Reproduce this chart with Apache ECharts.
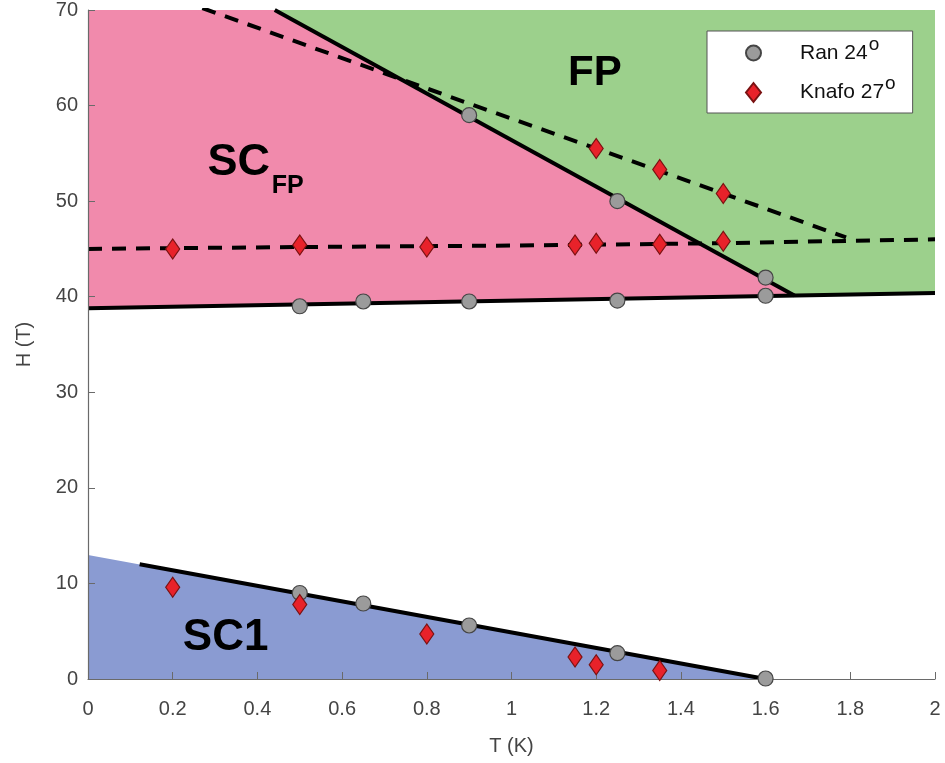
<!DOCTYPE html>
<html>
<head>
<meta charset="utf-8">
<script src="https://cdn.jsdelivr.net/npm/echarts@6/dist/echarts.min.js"></script>
<style>
  html, body { margin: 0; padding: 0; background: #fff; }
  #chart { width: 945px; height: 763px; }
</style>
</head>
<body>
<div id="chart"></div>
<script>
// Phase diagram of H (T) vs T (K)

// Axis ticks
const xTicks = [0, 0.2, 0.4, 0.6, 0.8, 1, 1.2, 1.4, 1.6, 1.8, 2];
const yTicks = [0, 10, 20, 30, 40, 50, 60, 70];

// Ran 24° data: [T, H]
const ranT = [0.5, 0.65, 0.9, 1.25, 1.6, 0.9, 1.25, 1.6, 0.5, 0.65, 0.9, 1.25, 1.6];
const ranH = [39.0, 39.5, 39.5, 39.6, 40.1, 59.0, 50.0, 42.0, 9.0, 7.9, 5.6, 2.7, 0.05];

// Knafo 27° data: [T, H]
const knafoT = [0.2, 0.5, 0.8, 1.15, 1.2, 1.35, 1.5, 1.2, 1.35, 1.5, 0.2, 0.5, 0.8, 1.15, 1.2, 1.35];
const knafoH = [45.0, 45.4, 45.2, 45.4, 45.6, 45.5, 45.8, 55.5, 53.3, 50.8, 9.6, 7.8, 4.7, 2.3, 1.5, 0.9];

// Phase boundaries (solid)
const lowerBoundary = [[0, 38.8], [2, 40.4]];
const steepBoundary = [[0.441, 70], [1.668, 40.13]];
const sc1Boundary = [[0.122, 12.0], [1.6, 0]];

// Phase boundaries (dashed)
const knafoUpper = [[0.27, 70.2], [0.68, 63.7], [0.9, 60.2], [1.2, 55.5], [1.5, 50.8], [1.79, 46.2]];
const knafoLower = [[0, 45.0], [0.5, 45.2], [1.0, 45.35], [1.5, 45.6], [1.8, 45.85], [2, 46.0]];

// Phase regions (polygons)
const fpRegion = [[0.441, 70], [2, 70], [2, 40.4], [1.668, 40.13]];
const scfpRegion = [[0, 70], [0.441, 70], [1.668, 40.13], [0, 38.8]];
const sc1Region = [[0, 0], [0, 12.97], [1.6, 0]];

// Region labels: [T, H]
const fpLabelPos = [1.197, 63.4];
const scLabelPos = [0.282, 54.0];
const scSubPos = [0.434, 51.6];
const sc1LabelPos = [0.325, 4.35];

const FONT = 'Arial, "Liberation Sans", Helvetica, sans-serif';

function polygonSeries(points, color) {
  return {
    type: 'custom',
    silent: true,
    z: 1,
    data: [[0]],
    renderItem: function (params, api) {
      return {
        type: 'polygon',
        shape: { points: points.map(function (p) { return api.coord(p); }) },
        style: { fill: color }
      };
    }
  };
}

function textSeries(pos, text, size, align) {
  return {
    type: 'custom',
    silent: true,
    z: 5,
    data: [[0]],
    renderItem: function (params, api) {
      const c = api.coord(pos);
      return {
        type: 'text',
        x: c[0], y: c[1],
        style: {
          text: text,
          fill: '#000',
          font: 'bold ' + size + 'px ' + FONT,
          align: align,
          verticalAlign: 'middle'
        }
      };
    }
  };
}

function lineSeries(points, dashed) {
  return {
    type: 'line',
    data: points,
    symbol: 'none',
    silent: true,
    z: 3,
    lineStyle: {
      color: '#000',
      width: 4,
      type: dashed ? [14, 10] : 'solid',
      cap: 'butt'
    }
  };
}

const chart = echarts.init(document.getElementById('chart'), null, { renderer: 'canvas' });

chart.setOption({
  animation: false,
  backgroundColor: '#fff',
  grid: { left: 88, right: 10, top: 10, bottom: 84, containLabel: false },
  xAxis: {
    type: 'value',
    z: 4,
    min: 0, max: 2, interval: 0.2,
    name: 'T (K)',
    nameLocation: 'middle',
    nameGap: 57,
    nameTextStyle: { fontSize: 20, color: '#444', fontFamily: FONT },
    axisLine: { lineStyle: { color: '#6a6a6a', width: 1.2 } },
    axisTick: { inside: true, length: 7, lineStyle: { color: '#6a6a6a' } },
    axisLabel: {
      margin: 20, fontSize: 20, color: '#444', fontFamily: FONT,
      formatter: function (v) {
        const hit = xTicks.find(function (t) { return Math.abs(t - v) < 1e-6; });
        return hit === undefined ? '' : String(hit);
      }
    },
    splitLine: { show: false }
  },
  yAxis: {
    type: 'value',
    z: 4,
    min: 0, max: 70, interval: 10,
    name: 'H (T)',
    nameLocation: 'middle',
    nameGap: 54,
    nameRotate: 90,
    nameTextStyle: { fontSize: 20, color: '#444', fontFamily: FONT },
    axisLine: { show: true, lineStyle: { color: '#6a6a6a', width: 1.2 } },
    axisTick: { show: true, inside: true, length: 7, lineStyle: { color: '#6a6a6a' } },
    axisLabel: {
      margin: 10, fontSize: 20, color: '#444', fontFamily: FONT,
      formatter: function (v) {
        const hit = yTicks.find(function (t) { return Math.abs(t - v) < 1e-6; });
        return hit === undefined ? '' : String(hit);
      }
    },
    splitLine: { show: false }
  },
  legend: {
    orient: 'vertical',
    left: 707,
    top: 31,
    backgroundColor: '#fff',
    borderColor: '#555',
    borderWidth: 1,
    borderRadius: 0,
    padding: [4, 17, 10, 38],
    itemWidth: 15,
    itemHeight: 19,
    itemGap: 11,
    data: [
      { name: 'Ran 24', icon: 'circle' },
      { name: 'Knafo 27', icon: 'diamond' }
    ],
    formatter: function (name) { return '{t|' + name + '}{s|o}'; },
    textStyle: {
      padding: [0, 0, 0, 34],
      rich: {
        t: { fontSize: 21, color: '#111', fontFamily: FONT, lineHeight: 36 },
        s: { fontSize: 19, color: '#111', fontFamily: FONT, verticalAlign: 'top', lineHeight: 19, padding: [0, 0, 0, 1] }
      }
    }
  },
  series: [
    polygonSeries(fpRegion, '#9cd08c'),
    polygonSeries(scfpRegion, '#f18aac'),
    polygonSeries(sc1Region, '#8a9bd2'),
    lineSeries(lowerBoundary, false),
    lineSeries(steepBoundary, false),
    lineSeries(sc1Boundary, false),
    lineSeries(knafoUpper, true),
    lineSeries(knafoLower, true),
    textSeries(fpLabelPos, 'FP', 42, 'center'),
    textSeries(scLabelPos, 'SC', 45, 'left'),
    textSeries(scSubPos, 'FP', 25, 'left'),
    textSeries(sc1LabelPos, 'SC1', 44, 'center'),
    {
      name: 'Ran 24',
      type: 'scatter',
      z: 6,
      symbol: 'circle',
      symbolSize: 15,
      itemStyle: { color: '#9b9b9b', borderColor: '#454545', borderWidth: 1.2, opacity: 1 },
      data: ranT.map(function (t, i) { return [t, ranH[i]]; })
    },
    {
      name: 'Knafo 27',
      type: 'scatter',
      z: 6,
      symbol: 'diamond',
      symbolSize: [14, 20],
      itemStyle: { color: '#e8222a', borderColor: '#7a1212', borderWidth: 1.2, opacity: 1 },
      data: knafoT.map(function (t, i) { return [t, knafoH[i]]; })
    }
  ]
});
</script>
</body>
</html>
